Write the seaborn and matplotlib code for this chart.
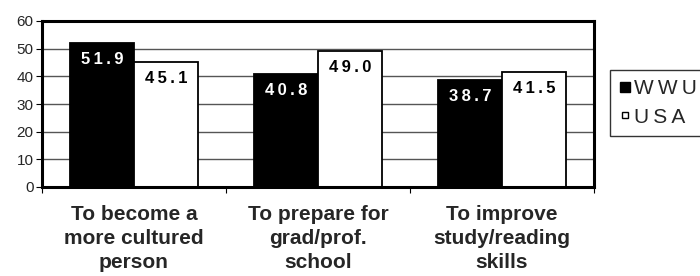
import matplotlib
matplotlib.use("Agg")
import matplotlib.pyplot as plt
import seaborn as sns
import pandas as pd
from matplotlib.lines import Line2D

categories = ["To become a\nmore cultured\nperson",
              "To prepare for\ngrad/prof.\nschool",
              "To improve\nstudy/reading\nskills"]
series = ["WWU", "USA"]
wwu_values = [51.9, 40.8, 38.7]
usa_values = [45.1, 49.0, 41.5]
y_ticks = [0, 10, 20, 30, 40, 50, 60]

sns.set_theme(style="white")
plt.rcParams['font.family'] = ['Liberation Sans', 'DejaVu Sans']

df = pd.DataFrame({
    "category": categories * 2,
    "series": [series[0]] * 3 + [series[1]] * 3,
    "value": wwu_values + usa_values,
})

fig = plt.figure(figsize=(7.0, 2.76), dpi=100)
ax = fig.add_axes([42/700, 1 - 187/276, (594-42)/700, (187-21)/276])

sns.barplot(data=df, x="category", y="value", hue="series",
            palette=["black", "white"], edgecolor="black", linewidth=1.3,
            width=0.7, gap=0, ax=ax, legend=False, errorbar=None)

ax.set_ylim(0, 60)
ax.set_xlim(-0.5, 2.5)
ax.set_yticks(y_ticks)
ax.set_yticklabels([str(t) for t in y_ticks], fontsize=11)
ax.yaxis.grid(True, color="#555555", linewidth=1.0)
ax.set_axisbelow(True)
ax.set_xlabel("")
ax.set_ylabel("")

# category boundary ticks and centered labels
ax.set_xticks([-0.5, 0.5, 1.5, 2.5])
ax.set_xticklabels([])
ax.set_xticks([0, 1, 2], minor=True)
ax.set_xticklabels(categories, minor=True, fontsize=15, fontweight="bold",
                   linespacing=1.32, va="top")
ax.tick_params(axis="x", which="major", direction="out", length=4, width=0.8, color="black", bottom=True)
ax.tick_params(axis="x", which="minor", length=0, pad=13)
ax.tick_params(axis="y", which="major", direction="out", length=4, width=0.8, color="black", left=True, pad=2)

for sp in ax.spines.values():
    sp.set_visible(True)
    sp.set_color("black")
    sp.set_linewidth(2.2)

# value labels inside bars
def spaced(v):
    return "\u2009".join(f"{v:.1f}")

for container, color in zip(ax.containers, ["white", "black"]):
    for bar in container:
        h = bar.get_height()
        ax.annotate(spaced(h), (bar.get_x() + bar.get_width()/2, h),
                    xytext=(0, -9), textcoords="offset pixels",
                    ha="center", va="top", fontsize=12, fontweight="bold",
                    color=color)

handles = [Line2D([], [], linestyle="none", marker="s", markersize=7,
                  markerfacecolor="black", markeredgecolor="black", markeredgewidth=1.0),
           Line2D([], [], linestyle="none", marker="s", markersize=5,
                  markerfacecolor="white", markeredgecolor="black", markeredgewidth=1.0)]
leg = fig.legend(handles, ["\u2009".join("WWU"), "\u2009".join("USA")],
                 loc="upper left", bbox_to_anchor=(610/700, 1 - 70/276),
                 frameon=True, fancybox=False, fontsize=15,
                 handlelength=0.5, handletextpad=0.2,
                 borderpad=0.45, labelspacing=0.45, borderaxespad=0)
leg.get_frame().set_edgecolor("black")
leg.get_frame().set_linewidth(1.0)

fig.savefig("out.png", dpi=100)
